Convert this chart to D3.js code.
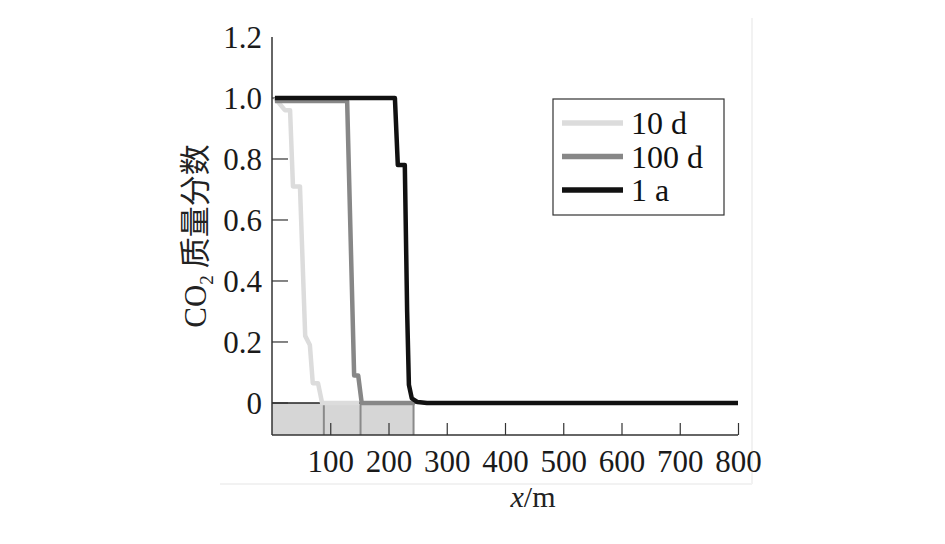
<!DOCTYPE html>
<html><head><meta charset="utf-8">
<script src="https://cdn.jsdelivr.net/npm/d3@7/dist/d3.min.js"></script>
<style>body{margin:0;background:#fff}svg{display:block}</style>
</head><body><div id="chart"></div>
<script>
const seriesNames = ["10 d", "100 d", "1 a"];
const seriesColors = ["#dcdcdc", "#878787", "#111111"];
const x10d  = [5, 22, 31, 36, 48, 57, 65, 70, 79, 86, 150];
const y10d  = [1.0, 0.96, 0.96, 0.71, 0.71, 0.22, 0.19, 0.065, 0.065, 0.0, 0.0];
const x100d = [5, 129, 141, 148, 154, 245];
const y100d = [0.99, 0.99, 0.09, 0.09, 0.0, 0.0];
const x1a   = [5, 211, 216, 228, 232, 235, 240, 250, 266, 800];
const y1a   = [1.0, 1.0, 0.78, 0.78, 0.3, 0.06, 0.015, 0.003, 0.0, 0.0];
const xTicks = [100, 200, 300, 400, 500, 600, 700, 800];
const yTicks = [0, 0.2, 0.4, 0.6, 0.8, 1.0, 1.2];
const yTickLabels = ["0", "0.2", "0.4", "0.6", "0.8", "1.0", "1.2"];
const frontX = [89, 152, 243];

const W = 945, H = 544;
const svg = d3.select("#chart").append("svg").attr("width", W).attr("height", H);
const x = d3.scaleLinear().domain([0, 800]).range([272, 738]);
const y = d3.scaleLinear().domain([-0.105, 1.2]).range([435, 37]);
const serif = "'Liberation Serif','DejaVu Serif',serif";

// faint scan frame
svg.append("line").attr("x1", 752).attr("x2", 752).attr("y1", 18).attr("y2", 484).attr("stroke", "#f2f2f2").attr("stroke-width", 2);
svg.append("line").attr("x1", 220).attr("x2", 752).attr("y1", 484).attr("y2", 484).attr("stroke", "#f2f2f2").attr("stroke-width", 2);

// shaded band below zero
svg.append("rect").attr("x", x(0)).attr("y", y(0)).attr("width", x(frontX[2]) - x(0)).attr("height", y(-0.105) - y(0)).attr("fill", "#d6d6d6");
svg.selectAll("line.front").data(frontX).enter().append("line")
  .attr("x1", d => x(d)).attr("x2", d => x(d)).attr("y1", y(0)).attr("y2", y(-0.105))
  .attr("stroke", "#8a8a8a").attr("stroke-width", 2);

// zero baseline
svg.append("line").attr("x1", x(0)).attr("x2", x(800)).attr("y1", y(0)).attr("y2", y(0)).attr("stroke", "#222").attr("stroke-width", 1.5);

// axes
const xAxis = d3.axisBottom(x).tickValues(xTicks).tickSize(-12).tickPadding(15).tickFormat(d3.format("d"));
const gx = svg.append("g").attr("transform", `translate(0,${y(-0.105)})`).call(xAxis);
gx.select(".domain").attr("d", `M${x(0)},0H${x(800)}`).attr("stroke", "#333").attr("stroke-width", 1.5);
gx.selectAll(".tick line").attr("stroke", "#333").attr("stroke-width", 1.2);
gx.selectAll("text").attr("font-family", serif).attr("font-size", 31).attr("fill", "#1a1a1a").attr("dy", "0.71em");

const yAxis = d3.axisLeft(y).tickValues(yTicks).tickSize(0).tickPadding(10).tickFormat((d, i) => yTickLabels[i]);
const gy = svg.append("g").attr("transform", `translate(${x(0)},0)`).call(yAxis);
gy.select(".domain").attr("d", `M0,${y(1.2)}V${y(-0.105)}`).attr("stroke", "#333").attr("stroke-width", 1.5);
gy.selectAll("text").attr("font-family", serif).attr("font-size", 31).attr("fill", "#1a1a1a").attr("dy", "0.35em");
svg.selectAll("line.ytick").data(yTicks.filter(v => v < 1.1)).enter().append("line")
  .attr("x1", x(0)).attr("x2", x(0) + 16).attr("y1", d => y(d)).attr("y2", d => y(d))
  .attr("stroke", "#333").attr("stroke-width", 1.2);

// curves
const line = d3.line().x(d => x(d[0])).y(d => y(d[1]));
const series = [
  d3.zip(x10d, y10d), d3.zip(x100d, y100d), d3.zip(x1a, y1a)
];
series.forEach((s, i) => {
  svg.append("path").datum(s).attr("d", line).attr("fill", "none")
    .attr("stroke", seriesColors[i]).attr("stroke-width", 4.5).attr("stroke-linejoin", "round");
});

// legend
const lg = svg.append("g");
lg.append("rect").attr("x", 553).attr("y", 99).attr("width", 171).attr("height", 116)
  .attr("fill", "#fff").attr("stroke", "#333").attr("stroke-width", 1.2);
seriesNames.forEach((n, i) => {
  const ly = 123 + i * 33.5;
  lg.append("line").attr("x1", 562).attr("x2", 623).attr("y1", ly).attr("y2", ly)
    .attr("stroke", seriesColors[i]).attr("stroke-width", 5.5);
  lg.append("text").attr("x", 631).attr("y", ly + 11).text(n)
    .attr("font-family", serif).attr("font-size", 32).attr("fill", "#111");
});

// axis titles
const yl = svg.append("text").attr("transform", "translate(206,236) rotate(-90)")
  .attr("text-anchor", "middle").attr("font-family", serif).attr("font-size", 31).attr("fill", "#222");
yl.append("tspan").text("CO");
yl.append("tspan").text("2").attr("font-size", 19).attr("dy", 7);
yl.append("tspan").text(" 质量分数").attr("dy", -7).attr("font-family", "'Noto Sans CJK SC',serif").attr("font-size", 31);

const xl = svg.append("text").attr("x", 533).attr("y", 507).attr("text-anchor", "middle")
  .attr("font-family", serif).attr("font-size", 30).attr("fill", "#222");
xl.append("tspan").text("x").attr("font-style", "italic");
xl.append("tspan").text("/m");
</script></body></html>
